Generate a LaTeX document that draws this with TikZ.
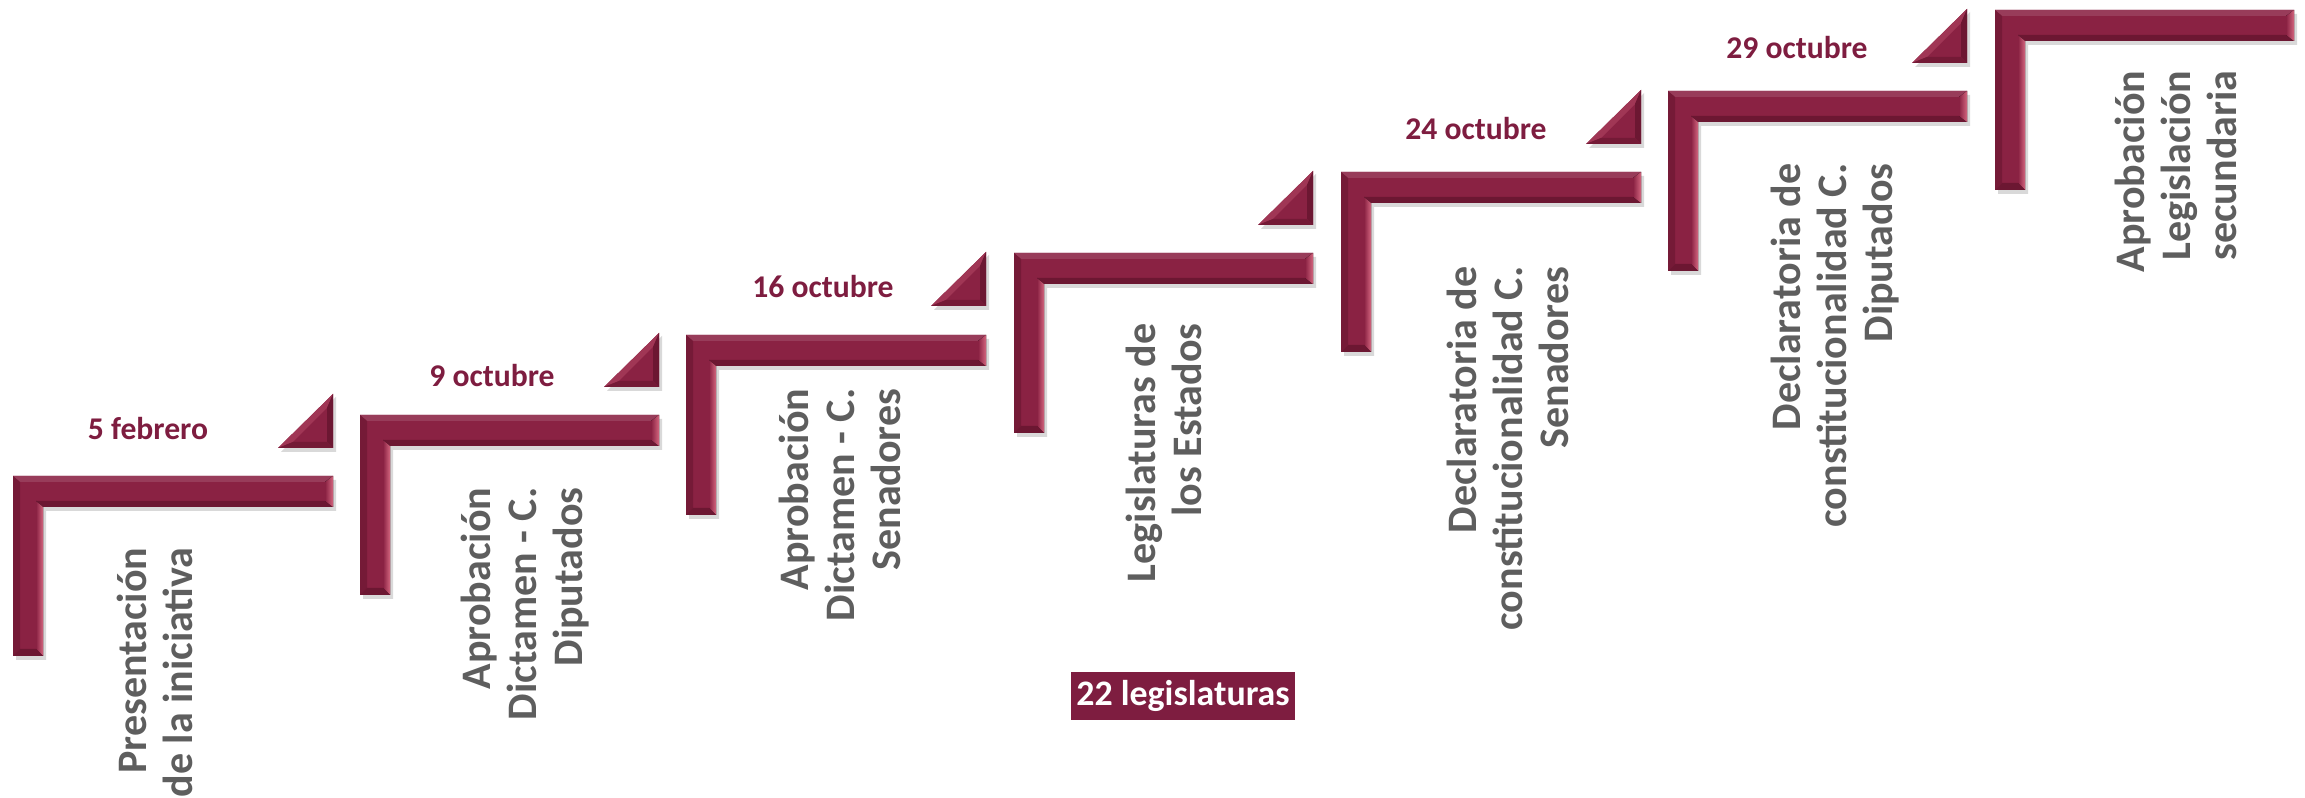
\documentclass[tikz,border=0pt]{standalone}
\usepackage{fontspec}
\setmainfont{Carlito}

\definecolor{barmaroon}{HTML}{8A2243}
\definecolor{bardark}{HTML}{6C1732}
\definecolor{barlight}{HTML}{D3667F}
\definecolor{datecol}{HTML}{7E1D40}
\definecolor{labgray}{HTML}{5E5E5E}

% one stair: left x, top y, right x (all in px)
\newcommand\stepL[3]{%
  \begin{scope}[shift={(#1,#2)}]
    \pgfmathsetmacro\barw{#3-#1}
    \fill[black, opacity=.15] (3,4) -- (\barw+3,4) -- (\barw+3,35) -- (33,35) -- (33,184) -- (3,184) -- cycle;
    \fill[barmaroon] (0,0) -- (\barw,0) -- (\barw,31) -- (30,31) -- (30,180) -- (0,180) -- cycle;
    \fill[barmaroon!88!white] (0,0) -- (\barw,0) -- (\barw-7,6) -- (7,6) -- cycle;
    \fill[bardark!70!barmaroon] (0,0) -- (7,6) -- (7,173) -- (0,180) -- cycle;
    \fill[bardark] (30,31) -- (\barw,31) -- (\barw-8,25) -- (23,25) -- cycle;
    \fill[left color=barmaroon, right color=barlight] (23,25) -- (30,31) -- (30,180) -- (23,173) -- cycle;
    \fill[left color=barmaroon, right color=barlight] (\barw-8,6) -- (\barw,0) -- (\barw,31) -- (\barw-8,25) -- cycle;
    \fill[bardark] (0,180) -- (7,173) -- (23,173) -- (30,180) -- cycle;
  \end{scope}}

% small corner triangle: right x, bottom y
\newcommand\stepT[2]{%
  \begin{scope}[shift={(#1,#2)}]
    \fill[black, opacity=.15] (-52,4) -- (3,4) -- (3,-51) -- cycle;
    \fill[barmaroon] (-55,0) -- (0,0) -- (0,-54) -- cycle;
    \fill[barmaroon!70!barlight] (-55,0) -- (0,-54) -- (-6,-40) -- (-40,-6) -- cycle;
    \fill[bardark] (0,0) -- (0,-54) -- (-6,-40) -- (-6,-6) -- cycle;
    \fill[bardark!75!barmaroon] (-55,0) -- (0,0) -- (-6,-6) -- (-40,-6) -- cycle;
  \end{scope}}

\begin{document}
\begin{tikzpicture}[x=0.01cm, y=-0.01cm,
    datelbl/.style={font=\fontsize{9}{10}\selectfont\bfseries, text=datecol, anchor=base},
    steplbl/.style={font=\fontsize{11.95}{13.1}\selectfont\bfseries, text=labgray,
      rotate=90, anchor=north east, align=right, inner sep=0pt},
    countbox/.style={fill=datecol, text=white, font=\fontsize{10.2}{12}\selectfont\bfseries,
      minimum width=2.24cm, minimum height=0.47cm, inner sep=0pt}]
    \useasboundingbox (0,0) rectangle (2305,798);

    % the stairs
    \stepL{13}{476}{333}
    \stepL{360}{415}{659}
    \stepL{686}{335}{986}
    \stepL{1014}{253}{1313}
    \stepL{1341}{172}{1641}
    \stepL{1668}{91}{1967}
    \stepL{1995}{10}{2294}

    % triangles over each stair
    \stepT{333}{448}
    \stepT{659}{387}
    \stepT{986}{306}
    \stepT{1313}{225}
    \stepT{1641}{144}
    \stepT{1967}{63}

    % dates
    \node[datelbl] (d1) at (148,440) {5 febrero};
    \node[datelbl] (d2) at (492,387) {9 octubre};
    \node[datelbl] (d3) at (823,298) {16 octubre};
    \node[datelbl] (d5) at (1476,140) {24 octubre};
    \node[datelbl] (d6) at (1797,59) {29 octubre};

    % stages, read upwards
    \node[steplbl] (s1) at (116,547) {Presentación\\de la iniciativa};
    \node[steplbl] (s2) at (460,487) {Aprobación\\Dictamen - C.\\Diputados};
    \node[steplbl] (s3) at (778,388) {Aprobación\\Dictamen - C.\\Senadores};
    \node[steplbl] (s4) at (1125,323) {Legislaturas de\\los Estados};
    \node[steplbl] (s5) at (1446,266) {Declaratoria de\\constitucionalidad C.\\Senadores};
    \node[steplbl] (s6) at (1770,163) {Declaratoria de\\constitucionalidad C.\\Diputados};
    \node[steplbl] (s7) at (2114,70) {Aprobación\\Legislación\\secundaria};

    \node[countbox] (legis) at (1183,696) {22 legislaturas};
\end{tikzpicture}
\end{document}
